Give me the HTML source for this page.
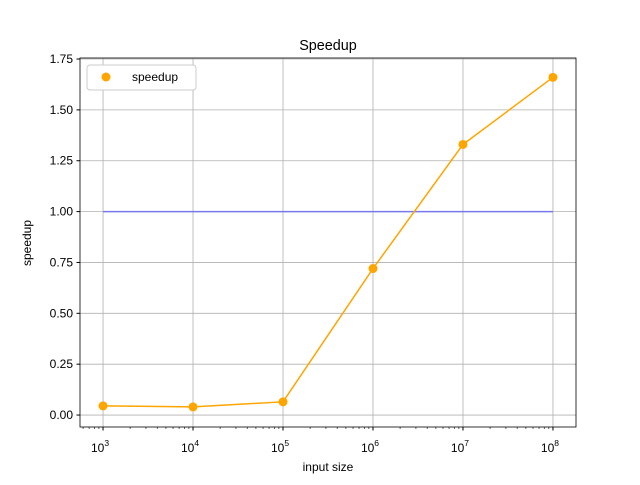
<!DOCTYPE html>
<html><head><meta charset="utf-8"><style>body{margin:0;background:#fff}svg{font-family:"Liberation Sans","DejaVu Sans",sans-serif}</style></head>
<body>
<svg id="c" width="640" height="480"></svg>
<script>
const sizesExp=[3,4,5,6,7,8];
const speedup=[0.045,0.04,0.065,0.72,1.33,1.66];
const baseline=[1,1,1,1,1,1];
const yTicks=[0,0.25,0.5,0.75,1.0,1.25,1.5,1.75];
const yTickLabels=["0.00","0.25","0.50","0.75","1.00","1.25","1.50","1.75"];
const xTicks=[3,4,5,6,7,8];
const L=80,R=576,T=58,B=427;
const xMin=2.744,xMax=8.256,yMin=-0.0588,yMax=1.755;
const X=e=>L+(e-xMin)/(xMax-xMin)*(R-L);
const Y=v=>B-(v-yMin)/(yMax-yMin)*(B-T);
const s=document.getElementById('c');const ns='http://www.w3.org/2000/svg';
function mk(t,a,p){const e=document.createElementNS(ns,t);for(const k in a)e.setAttribute(k,a[k]);(p||s).appendChild(e);return e;}
let g=mk('g',{});
xTicks.forEach(e=>mk('line',{x1:X(e),x2:X(e),y1:T,y2:B,stroke:'#b0b0b0','stroke-width':0.8},g));
yTicks.forEach(v=>mk('line',{x1:L,x2:R,y1:Y(v),y2:Y(v),stroke:'#b0b0b0','stroke-width':0.8},g));
let ax=mk('g',{});
yTicks.forEach((v,i)=>{mk('line',{x1:L-3.5,x2:L,y1:Y(v),y2:Y(v),stroke:'#000'},ax);const t=mk('text',{x:L-7,y:Y(v)+4,'text-anchor':'end','font-size':12},ax);t.textContent=yTickLabels[i];});
xTicks.forEach(e=>{mk('line',{x1:X(e),x2:X(e),y1:B,y2:B+3.5,stroke:'#000'},ax);const t=mk('text',{x:X(e)-3,y:B+25,'text-anchor':'middle','font-size':12},ax);t.textContent='10';const u=mk('tspan',{dy:-6,'font-size':8.5},t);u.textContent=e;});
for(let e=2;e<=8;e++)for(let m=2;m<10;m++){const ex=e+Math.log10(m);if(ex>xMin&&ex<xMax)mk('line',{x1:X(ex),x2:X(ex),y1:B,y2:B+2,stroke:'#000','stroke-width':0.6},ax);}
mk('rect',{x:L,y:T,width:R-L,height:B-T,fill:'none',stroke:'#000','stroke-width':0.8},ax);
let bl=mk('polyline',{points:sizesExp.map((e,i)=>X(e)+','+Y(baseline[i])).join(' '),fill:'none',stroke:'#7777ee','stroke-width':1.5});

let ln=mk('polyline',{points:sizesExp.map((e,i)=>X(e)+','+Y(speedup[i])).join(' '),fill:'none',stroke:'orange','stroke-width':1.5});

sizesExp.forEach((e,i)=>{const c=mk('circle',{cx:X(e),cy:Y(speedup[i]),r:4.5,fill:'orange'});});
let t=mk('text',{x:328,y:50,'text-anchor':'middle','font-size':14.4});t.textContent='Speedup';
t=mk('text',{x:328,y:471,'text-anchor':'middle','font-size':12});t.textContent='input size';
t=mk('text',{x:31,y:243,'text-anchor':'middle','font-size':12,transform:'rotate(-90 31 243)'});t.textContent='speedup';
let lg=mk('g',{});
mk('rect',{x:87,y:65,width:109,height:25,rx:3,fill:'#fff',stroke:'#ccc'},lg);
mk('circle',{cx:106,cy:77,r:4.5,fill:'orange'},lg);
t=mk('text',{x:132,y:81,'font-size':12},lg);t.textContent='speedup';
</script>
</body></html>
